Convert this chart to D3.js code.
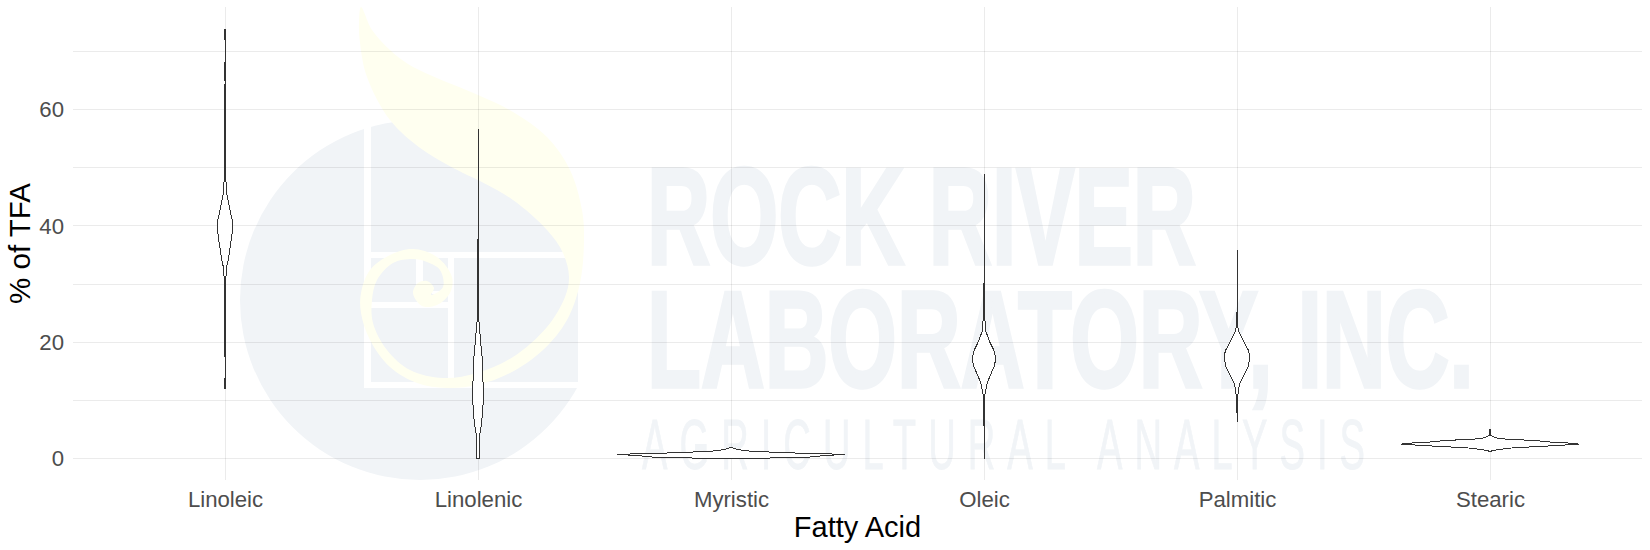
<!DOCTYPE html>
<html>
<head>
<meta charset="utf-8">
<script src="https://cdn.jsdelivr.net/npm/d3@7"></script>
<style>
html,body{margin:0;padding:0;background:#fff;}
svg{display:block;}
text{font-family:"Liberation Sans",Arial,sans-serif;}
</style>
</head>
<body>
<svg id="chart" width="1650" height="550"></svg>
<script>
// ---- data -------------------------------------------------------------
const categories = ["Linoleic","Linolenic","Myristic","Oleic","Palmitic","Stearic"];
const yTicks = [0,20,40,60];
const yMinorTicks = [10,30,50,70];

// each violin: value (% of TFA) and its kernel density at that value
const linoleicValues  = [12.1,13.7,13.8,17.5,17.6,31.0,31.5,33.2,34.4,36.2,37.9,39.6,41.0,42.7,44.4,45.8,47.4,47.9,64.3,64.4,65.0,65.1,68.0,68.1,72.0,72.1,73.8];
const linoleicDensity = [.009,.009,0,0,.009,.009,.021,.035,.061,.088,.114,.135,.126,.088,.053,.026,.021,.009,.009,0,0,.009,.009,0,0,.009,.009];

const linolenicValues  = [0,4.4,6.3,8.0,10.5,12.3,14.3,16.9,18.5,20.5,23.3,23.6,37.6,37.7,56.6];
const linolenicDensity = [.030,.035,.065,.079,.096,.096,.079,.075,.065,.039,.028,.009,.009,0,0];

const myristicValues  = [0,.12,.25,.50,.68,.76,.85,.95,1.05,1.20,1.30,1.50,1.75,2.0];
const myristicDensity = [.49,.60,1.33,1.58,1.84,2.0,1.67,1.25,.96,.58,.35,.18,.05,0];

const oleicValues  = [0,5.6,5.7,11.0,11.2,12.9,14.0,15.8,17.2,18.6,20.0,21.8,24.1,24.5,30.0,30.1,48.9];
const oleicDensity = [0,0,.009,.009,.018,.053,.096,.175,.210,.175,.105,.035,.014,.009,.009,0,0];

const palmiticValues  = [6.3,7.9,8.0,11.0,11.2,12.9,14.0,15.8,17.5,18.6,20.0,21.8,22.6,23.0,25.1,25.2,35.8];
const palmiticDensity = [0,0,.009,.009,.018,.044,.105,.193,.228,.202,.123,.035,.014,.009,.009,0,0];

const stearicValues  = [1.27,1.36,1.56,1.84,2.01,2.30,2.53,2.70,2.87,3.11,3.33,3.45,3.73,4.0,5.17];
const stearicDensity = [0,.035,.12,.35,.65,1.21,1.56,1.39,1.07,.82,.42,.16,.07,.01,0];

const violinValues  = [linoleicValues,linolenicValues,myristicValues,oleicValues,palmiticValues,stearicValues];
const violinDensity = [linoleicDensity,linolenicDensity,myristicDensity,oleicDensity,palmiticDensity,stearicDensity];

const xTitle = "Fatty Acid";
const yTitle = "% of TFA";
const watermarkLines = ["ROCK RIVER","LABORATORY, INC.","AGRICULTURAL ANALYSIS"];

// ---- layout -----------------------------------------------------------
const panel = {left:73, right:1642, top:7, bottom:480};
const svg = d3.select("#chart");

const x = d3.scalePoint().domain(categories).range([225,1490]);
const y = d3.scaleLinear().domain([-3.64,77.6]).range([panel.bottom,panel.top]);
const halfWidth = d3.scaleLinear().domain([0,2]).range([0,114]);

// ---- watermark logo ---------------------------------------------------
const wm = svg.append("g").attr("class","watermark");
const tint = "#f1f4f7", cream = "#fffff0";
svg.append("defs").append("clipPath").attr("id","logoClip")
  .append("rect").attr("x",200).attr("y",100).attr("width",378).attr("height",400);
wm.append("circle").attr("cx",420).attr("cy",300).attr("r",180).attr("fill",tint).attr("clip-path","url(#logoClip)");
[[364,125,7,263],[371,252,207,6],[364,382,214,6],[448,258,6,124],[371,302,77,6],[416,258,7,28],[432,291,12,3]]
  .forEach(r=>wm.append("rect").attr("x",r[0]).attr("y",r[1]).attr("width",r[2]).attr("height",r[3]).attr("fill","#fff"));
const flameOutline = [[361,7],[372,30],[390,50],[408,64],[430,75],[478,95],[513,112],[547,137],[570,170],[582,210],[584,240],[580,283],[567,320],[543,350],[510,373],[477,385],[447,388],[417,383],[390,367],[370,340],[361,313],[361,293],[370,270],[390,255],[413,249],[437,257],[452,277],[450,293],[437,305],[422,306],[413,293],[418,283],[427,281],[434,288],[431,295],[443,287],[440,270],[427,262],[413,259],[393,263],[377,280],[372,300],[373,323],[387,350],[410,370],[443,378],[477,373],[513,357],[547,327],[565,297],[569,277],[563,253],[547,230],[513,200],[478,180],[463,173],[423,150],[390,120],[367,77],[360,43],[359,23]];
wm.append("path").attr("d",d3.line().curve(d3.curveCatmullRomClosed.alpha(.5))(flameOutline)).attr("fill",cream);

const wmSpec = [
 {x:647,y:264,size:138,len:549,weight:"bold",spacing:0,stroke:3.5},
 {x:647,y:387,size:138,len:827,weight:"bold",spacing:0,stroke:3.5},
 {x:642,y:469,size:70,len:723,weight:"normal",spacing:22,stroke:.8}
];
wmSpec.forEach((s,i)=>{
  const t = wm.append("text").text(watermarkLines[i])
    .attr("x",0).attr("y",0).attr("fill",tint).attr("stroke",tint).attr("stroke-width",s.stroke)
    .style("font-family",'"Liberation Sans Narrow","Liberation Sans",sans-serif')
    .style("font-size",s.size+"px").style("font-weight",s.weight)
    .style("letter-spacing",s.spacing+"px");
  const natural = t.node().getComputedTextLength()-s.spacing;
  t.attr("transform",`translate(${s.x},${s.y}) scale(${s.len/natural},1)`);
});

// ---- grid -------------------------------------------------------------
const gridColor = "rgba(0,0,0,0.08)";
const grid = svg.append("g").attr("class","grid").attr("fill","none").attr("stroke",gridColor).attr("stroke-width",1).attr("shape-rendering","crispEdges");
grid.selectAll("line.h").data(yTicks.concat(yMinorTicks)).join("line").attr("class","h")
  .attr("x1",panel.left).attr("x2",panel.right).attr("y1",d=>y(d)).attr("y2",d=>y(d));
grid.selectAll("line.v").data(categories).join("line").attr("class","v")
  .attr("x1",d=>x(d)).attr("x2",d=>x(d)).attr("y1",panel.top).attr("y2",panel.bottom);

// ---- violins ----------------------------------------------------------
const violinLine = d3.line().x(d=>d[0]).y(d=>d[1]);
categories.forEach((cat,i)=>{
  const pts = violinValues[i].map((v,j)=>({v,d:violinDensity[i][j]}));
  const right = pts.map(p=>[x(cat)+halfWidth(p.d),y(p.v)]);
  const left  = pts.slice().reverse().map(p=>[x(cat)-halfWidth(p.d),y(p.v)]);
  svg.append("path").attr("class","violin")
    .attr("d",violinLine(right.concat(left))+"Z")
    .attr("fill","#fff").attr("stroke","#333").attr("stroke-width",1)
    .attr("stroke-linejoin","miter").attr("shape-rendering","crispEdges");
});

// ---- axes -------------------------------------------------------------
const axisText = "#4d4d4d";
const gx = svg.append("g").attr("transform",`translate(0,${panel.bottom})`)
  .call(d3.axisBottom(x).tickSize(0).tickPadding(0));
gx.select(".domain").remove();
gx.selectAll("text").attr("y",27).attr("dy",0).attr("fill",axisText).style("font-size","22.2px");

const gy = svg.append("g").attr("transform",`translate(${panel.left},0)`)
  .call(d3.axisLeft(y).tickValues(yTicks).tickSize(0).tickPadding(9).tickFormat(d3.format("d")));
gy.select(".domain").remove();
gy.selectAll("text").attr("fill",axisText).style("font-size","22.2px");

svg.append("text").text(xTitle).attr("x",(panel.left+panel.right)/2).attr("y",537)
  .attr("text-anchor","middle").attr("fill","#000").style("font-size","29px");
svg.append("text").text(yTitle).attr("transform",`translate(30,${(panel.top+panel.bottom)/2}) rotate(-90)`)
  .attr("text-anchor","middle").attr("fill","#000").style("font-size","29.5px");
</script>
</body>
</html>
